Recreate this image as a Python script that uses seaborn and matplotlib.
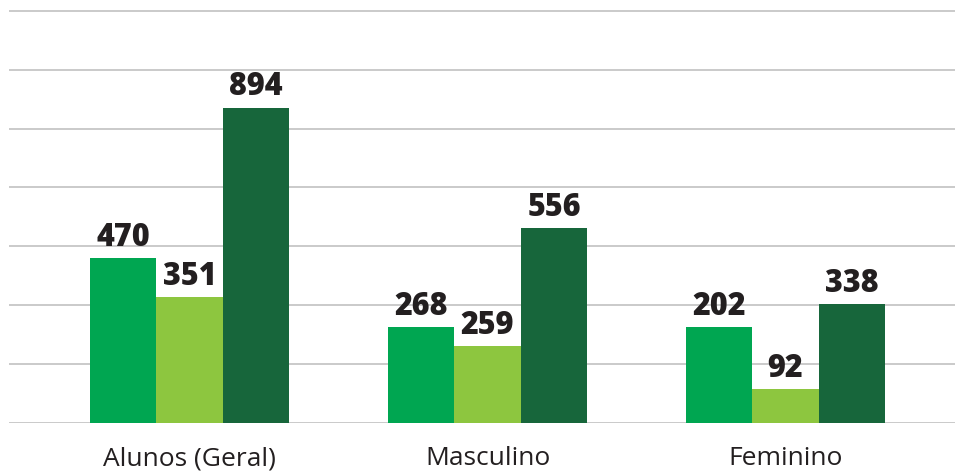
import numpy as np
import pandas as pd
import matplotlib
matplotlib.use('Agg')
import matplotlib.pyplot as plt
import seaborn as sns

# categories and the three series (labels printed on the bars)
categories = ['Alunos (Geral)', 'Masculino', 'Feminino']
series_names = ['Série 1', 'Série 2', 'Série 3']
labels_s1 = [470, 268, 202]
labels_s2 = [351, 259, 92]
labels_s3 = [894, 556, 338]

heights_s1 = [470, 272, 272]
heights_s2 = [358, 218, 95]
heights_s3 = [900, 556, 338]

colors = ['#00a651', '#8dc63f', '#17663b']

rows = []
for name, hs in zip(series_names, [heights_s1, heights_s2, heights_s3]):
    for cat, h in zip(categories, hs):
        rows.append({'categoria': cat, 'serie': name, 'valor': h})
df = pd.DataFrame(rows)

sns.set_theme(style='white')
plt.rcParams['font.family'] = ['Open Sans', 'DejaVu Sans']

fig = plt.figure(figsize=(9.55, 4.76), dpi=100)
ax = fig.add_axes([9 / 955, (476 - 422.5) / 476, (955 - 9) / 955, (422.5 - 9) / 476])

sns.barplot(data=df, x='categoria', y='valor', hue='serie', palette=colors,
            width=0.67, saturation=1, gap=0, legend=False, linewidth=0,
            edgecolor='none', ax=ax)

for cont, labs in zip(ax.containers, [labels_s1, labels_s2, labels_s3]):
    ax.bar_label(cont, labels=[str(v) for v in labs], padding=3,
                 fontsize=22, fontweight='heavy', color='#231f20')

step = 168
ax.set_yticks(np.arange(0, 8) * step)
ax.set_ylim(0, 7 * step + 6)
ax.set_xlim(-0.606, 2.569)
ax.yaxis.grid(True, color='#c6c6c6', linewidth=1.3)
ax.set_axisbelow(True)
ax.tick_params(axis='y', left=False, labelleft=False)
ax.tick_params(axis='x', length=0, pad=17, labelsize=19, labelcolor='#231f20')
ax.set_xlabel('')
ax.set_ylabel('')
for s in ax.spines.values():
    s.set_visible(False)

fig.savefig('out.png', dpi=100)
